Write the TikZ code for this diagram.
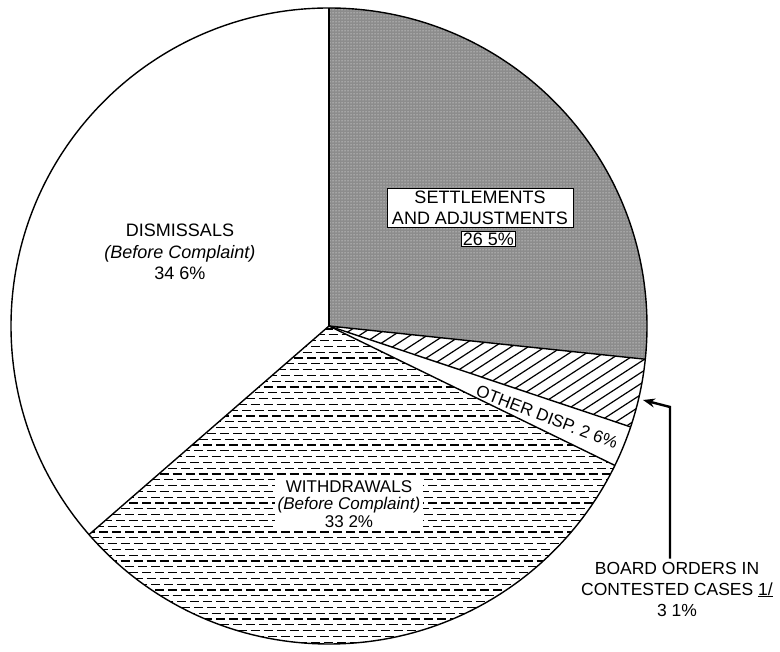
\documentclass[tikz,border=0pt]{standalone}
\usepackage{fontspec}
\setmainfont{Liberation Sans}
\usetikzlibrary{arrows.meta, calc, patterns}
\tikzset{
    % slice styles
    outline/.style={
        draw=black,
        line width=1.4pt
    },
    stipple/.style={
        fill=black!45
    },
    hatchline/.style={
        draw=black,
        line width=1.2pt
    },
    dashline/.style={
        draw=black,
        line width=1.3pt,
        dash pattern=on 9pt off 4pt
    },
    % text styles
    slicetext/.style={
        align=center,
        inner sep=0pt,
        font=\fontsize{18}{21.5}\selectfont
    },
    tagbox/.style={
        draw=black,
        fill=white,
        line width=0.8pt,
        align=center,
        font=\fontsize{18}{21}\selectfont
    },
    % arrow style
    pointer/.style={
        -{Stealth[length=12pt, width=9pt]},
        line width=2.4pt,
        draw=black
    }
}
\begin{document}
\begin{tikzpicture}[x=1pt, y=1pt]
    \useasboundingbox (0,0) rectangle (780,652);
    \coordinate (c) at (329,326);

    % settlements and adjustments
    \fill[stipple] (c) -- ++(90:318) arc[start angle=90, end angle=-6, radius=318] -- cycle;
    \fill[pattern=dots, pattern color=white] (c) -- ++(90:318) arc[start angle=90, end angle=-6, radius=318] -- cycle;

    % board orders
    \begin{scope}
        \clip (c) -- ++(-6:318) arc[start angle=-6, end angle=-18.5, radius=318] -- cycle;
        \foreach \b in {-30,-19,...,350}
            \draw[hatchline] (300,\b) -- ++(33:420);
    \end{scope}

    % withdrawals
    \begin{scope}
        \clip (c) -- ++(-26:318) arc[start angle=-26, end angle=-139, radius=318] -- cycle;
        \foreach \y [count=\i] in {4,9.8,...,330} {
            \pgfmathsetmacro\ph{mod(\i,3)*4.5}
            \draw[dashline, dash phase=\ph pt] (60,\y) -- (640,\y);
        }
    \end{scope}

    % outline
    \draw[outline] (c) circle[radius=318];
    \foreach \a in {90,-6,-18.5,-26,-139}
        \draw[outline] (c) -- ++(\a:318);

    \node[slicetext] (dism) at (180,400) {DISMISSALS\\\textit{(Before Complaint)}\\34 6\%};
    \node[tagbox, minimum width=186pt, minimum height=39pt, inner sep=1pt] (settle) at (480,444.5) {SETTLEMENTS\\AND ADJUSTMENTS};
    \node[tagbox, inner sep=1.5pt] (settlepct) at (488.5,413) {26 5\%};
    \node[slicetext, fill=white, inner sep=3pt, font=\fontsize{17}{17.5}\selectfont] (withd) at (349,148) {WITHDRAWALS\\\textit{(Before Complaint)}\\33 2\%};
    \node[slicetext, rotate=-21, font=\fontsize{17}{20}\selectfont] (other) at (547,235) {OTHER DISP. 2 6\%};
    \node[slicetext, font=\fontsize{17.5}{21}\selectfont] (board) at (677,63) {BOARD ORDERS IN\\CONTESTED CASES \underline{1/}\\3 1\%};

    \coordinate (bend) at (670,245);
    \coordinate (tip) at (643,252);
    \draw[pointer] ([yshift=3pt]board.north -| bend) -- (bend) -- (tip);
\end{tikzpicture}
\end{document}
